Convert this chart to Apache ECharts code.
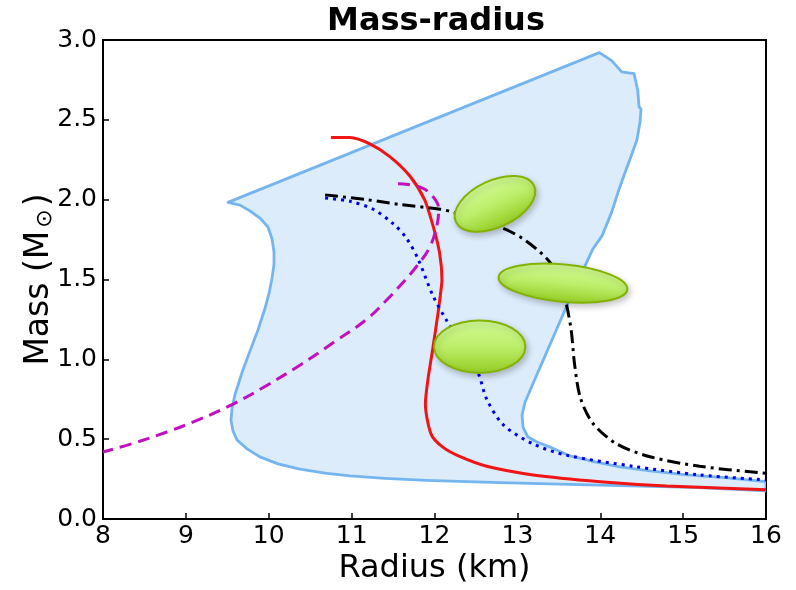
<!DOCTYPE html>
<html>
<head>
<meta charset="utf-8">
<script src="https://cdn.jsdelivr.net/npm/echarts@6/dist/echarts.min.js"></script>
<style>
  html, body { margin: 0; padding: 0; background: #fff; }
  #chart { width: 796px; height: 590px; }
</style>
</head>
<body>
<div id="chart"></div>
<script>
// Allowed mass-radius region (outline, clockwise from the left cusp)
const bandRadius = [
  9.508, 13.989, 14.138, 14.259, 14.407, 14.452, 14.468, 14.492, 14.480, 14.443, 14.371, 14.299,
  14.214, 14.138, 14.021, 13.913, 13.756, 13.599, 13.454, 13.309, 13.189, 13.092, 13.056, 13.068,
  13.128, 13.237, 13.394, 13.635, 13.937, 14.238, 14.600, 15.047, 15.506, 16.0,
  16.0, 15.204, 13.997, 12.790, 11.900, 11.400, 10.980, 10.679, 10.377, 10.112, 9.894, 9.738, 9.617,
  9.569, 9.544, 9.557, 9.593, 9.677, 9.774, 9.870, 9.955, 10.003, 10.039, 10.063, 10.063,
  10.039, 9.991, 9.894, 9.774, 9.653];
const bandMass = [
  1.983, 2.921, 2.871, 2.800, 2.790, 2.687, 2.583, 2.566, 2.487, 2.375, 2.270, 2.170,
  2.046, 1.922, 1.773, 1.693, 1.519, 1.339, 1.165, 0.992, 0.849, 0.731, 0.650, 0.575,
  0.513, 0.482, 0.451, 0.395, 0.358, 0.327, 0.302, 0.277, 0.259, 0.234,
  0.176, 0.197, 0.212, 0.228, 0.242, 0.255, 0.270, 0.287, 0.312, 0.345, 0.389, 0.439, 0.495,
  0.551, 0.619, 0.693, 0.780, 0.917, 1.053, 1.184, 1.320, 1.413, 1.506, 1.593, 1.674,
  1.755, 1.829, 1.885, 1.929, 1.966];

// Individual equations of state
const solidRadius = [10.75, 10.98, 11.22, 11.46, 11.70, 11.88, 11.98, 12.06, 12.09, 12.07, 12.04, 11.98,
  11.92, 11.89, 11.96, 12.10, 12.31, 12.63, 13.19, 14.0, 14.8, 16.0];
const solidMass = [2.39, 2.39, 2.35, 2.27, 2.15, 2.00, 1.84, 1.67, 1.50, 1.40, 1.28, 1.07,
  0.87, 0.72, 0.53, 0.45, 0.39, 0.33, 0.276, 0.234, 0.207, 0.183];

const dottedRadius = [10.68, 10.98, 11.26, 11.50, 11.66, 11.80, 11.98, 12.15, 12.36, 12.53, 12.63, 12.83,
  13.19, 13.59, 14.40, 15.20, 16.0];
const dottedMass = [2.01, 1.99, 1.94, 1.85, 1.76, 1.63, 1.40, 1.24, 1.07, 0.91, 0.75, 0.59,
  0.47, 0.40, 0.33, 0.276, 0.245];

const dashDotRadius = [10.68, 11.18, 11.58, 12.07, 12.23, 12.83, 13.11, 13.39, 13.52, 13.59, 13.65, 13.69,
  13.76, 13.91, 14.20, 14.60, 15.20, 16.0];
const dashDotMass = [2.03, 2.00, 1.97, 1.94, 1.92, 1.82, 1.74, 1.61, 1.48, 1.35, 1.18, 0.97,
  0.76, 0.60, 0.47, 0.39, 0.33, 0.286];

const dashedRadius = [11.56, 11.82, 11.98, 12.05, 12.03, 11.94, 11.78, 11.60, 11.42, 11.18, 10.78, 10.38,
  9.97, 9.57, 9.17, 8.77, 8.37, 8.0];
const dashedMass = [2.10, 2.08, 2.02, 1.94, 1.84, 1.70, 1.58, 1.47, 1.37, 1.25, 1.105, 0.965,
  0.835, 0.72, 0.625, 0.545, 0.475, 0.42];

// Measurement regions: centre, semi-axes (km, solar masses), tilt in degrees
const regionRadius = [12.73, 13.55, 12.545];
const regionMass = [1.974, 1.477, 1.079];
const regionHalfWidth = [0.52, 0.78, 0.551];
const regionHalfHeight = [0.146, 0.117, 0.164];
const regionTilt = [25, -5.5, 0];

// Axis ticks
const radiusTicks = [8, 9, 10, 11, 12, 13, 14, 15, 16];
const massTicks = ['0.0', '0.5', '1.0', '1.5', '2.0', '2.5', '3.0'];

const FONT = 'DejaVu Sans';
const pairs = (xs, ys) => xs.map((x, i) => [x, ys[i]]);

const chart = echarts.init(document.getElementById('chart'), null, { renderer: 'canvas' });

const lineSeries = (xs, ys, color, type, smooth) => ({
  type: 'line',
  data: pairs(xs, ys),
  showSymbol: false,
  symbol: 'none',
  smooth: smooth,
  clip: true,
  z: 3,
  lineStyle: { color: color, width: 3, type: type, cap: 'butt' }
});

chart.setOption({
  animation: false,
  backgroundColor: '#fff',
  title: {
    text: 'Mass-radius',
    left: 431,
    textAlign: 'center',
    top: 1,
    textStyle: { fontFamily: FONT, fontSize: 32, fontWeight: 'bold', color: '#000' }
  },
  grid: {
    left: 103, right: 30, top: 40, bottom: 67,
    show: true, borderColor: '#000', borderWidth: 2, backgroundColor: 'transparent'
  },
  xAxis: {
    type: 'value', min: radiusTicks[0], max: radiusTicks[radiusTicks.length - 1], interval: 1,
    name: 'Radius (km)', nameLocation: 'middle', nameGap: 34, nameMoveOverlap: false,
    nameTextStyle: { fontFamily: FONT, fontSize: 32, color: '#000' },
    axisLine: { show: true, onZero: false, lineStyle: { color: '#000', width: 2 } },
    axisTick: { show: true, inside: true, length: 6, lineStyle: { color: '#000', width: 1.5 } },
    axisLabel: {
      fontFamily: FONT, fontSize: 25, color: '#000', margin: 5,
      formatter: v => String(radiusTicks[radiusTicks.indexOf(v)])
    },
    splitLine: { show: false }
  },
  yAxis: {
    type: 'value', min: 0, max: 3, interval: 0.5,
    name: 'Mass (M{sub|⊙})', nameLocation: 'middle', nameGap: 47, nameRotate: 90, nameMoveOverlap: false,
    nameTextStyle: {
      fontFamily: FONT, fontSize: 33, color: '#000',
      rich: { sub: { fontFamily: FONT, fontSize: 22, color: '#000', verticalAlign: 'bottom', padding: [12, 3, 0, 3] } }
    },
    axisLine: { show: true, onZero: false, lineStyle: { color: '#000', width: 2 } },
    axisTick: { show: true, inside: true, length: 6, lineStyle: { color: '#000', width: 1.5 } },
    axisLabel: {
      fontFamily: FONT, fontSize: 25, color: '#000', margin: 6,
      formatter: v => massTicks[Math.round(v / 0.5)]
    },
    splitLine: { show: false }
  },
  series: [
    {
      type: 'custom',
      z: 1,
      clip: true,
      data: [[bandRadius[0], bandMass[0]]],
      renderItem: (params, api) => ({
        type: 'polygon',
        shape: { points: bandRadius.map((r, i) => api.coord([r, bandMass[i]])) },
        style: { fill: '#dcecfb', stroke: '#74b5f0', lineWidth: 2.8, lineJoin: 'round' }
      })
    },
    lineSeries(solidRadius, solidMass, '#f01414', 'solid', 0.25),
    lineSeries(dottedRadius, dottedMass, '#0000e6', [3, 5], 0.3),
    lineSeries(dashDotRadius, dashDotMass, '#000', [13, 5, 3, 5], 0.3),
    lineSeries(dashedRadius, dashedMass, '#c010c0', [12, 7], 0.4),
    {
      type: 'custom',
      z: 5,
      data: regionRadius.map((r, i) => [r, regionMass[i], regionHalfWidth[i], regionHalfHeight[i], regionTilt[i]]),
      renderItem: (params, api) => {
        const c = api.coord([api.value(0), api.value(1)]);
        const s = api.size([api.value(2), api.value(3)]);
        return {
          type: 'ellipse',
          x: c[0], y: c[1],
          rotation: api.value(4) * Math.PI / 180,
          shape: { cx: 0, cy: 0, rx: s[0], ry: s[1] },
          style: {
            fill: new echarts.graphic.LinearGradient(0, 0, 0, 1, [
              { offset: 0, color: '#d2fb96' },
              { offset: 0.5, color: '#bdee6a' },
              { offset: 1, color: '#94cc22' }
            ]),
            stroke: '#84b200',
            lineWidth: 2,
            shadowBlur: 6,
            shadowColor: 'rgba(0,0,0,0.22)',
            shadowOffsetX: 2,
            shadowOffsetY: 3
          }
        };
      }
    }
  ]
});
</script>
</body>
</html>
